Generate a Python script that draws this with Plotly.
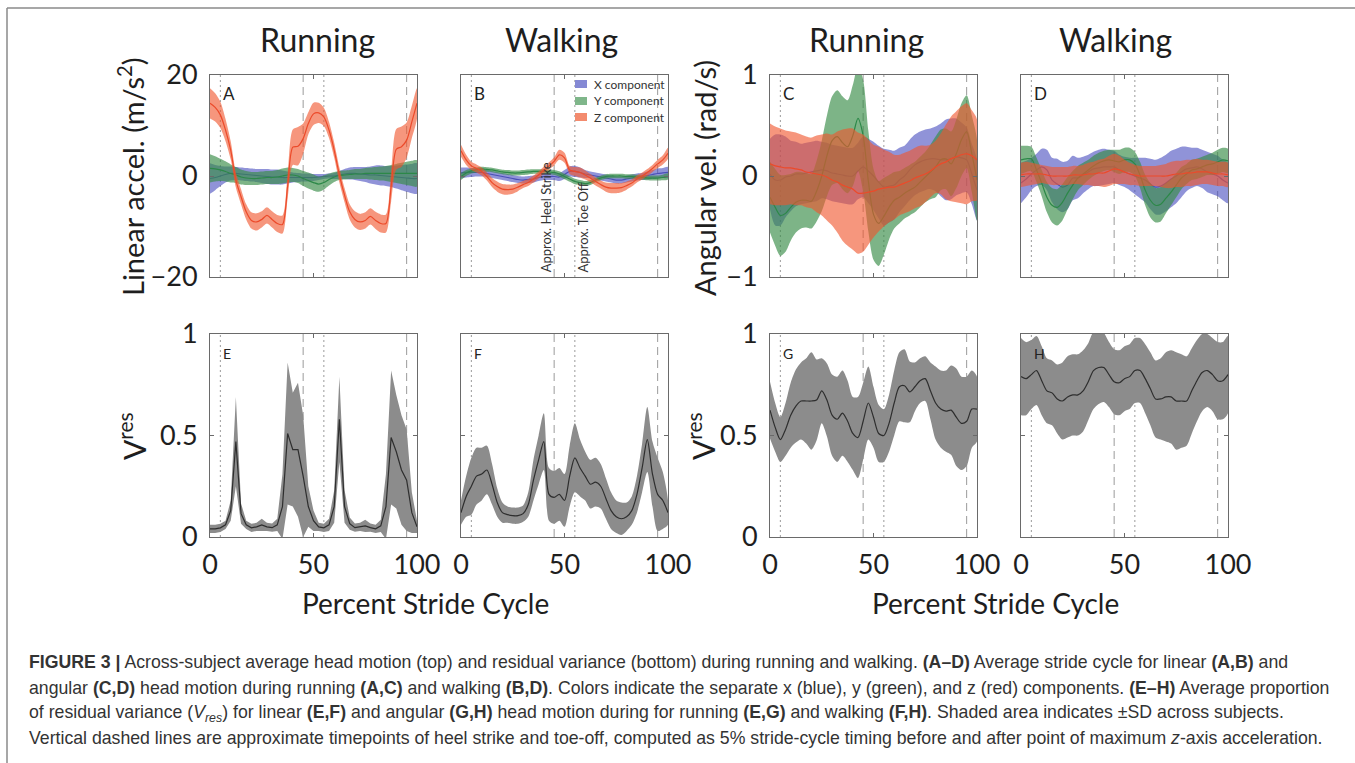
import plotly.graph_objects as go

# ---------------- data ----------------
pct = [i * 2.5 for i in range(41)]          # percent stride cycle grid
toe_off_pct = [5, 55]                        # dotted lines
heel_strike_pct = [45, 95]                   # dashed lines

# Panel A: running, linear acceleration (m/s^2)
A_x_mean = [-0.5, -0.3, 0.0, 0.3, 0.5, 0.5, 0.4, 0.3, 0.2, 0.1, 0.0, -0.1, -0.2, -0.2, -0.3, -0.3, -0.3, -0.3, -0.3, -0.3,
            -0.3, -0.2, -0.1, 0.0, 0.0, 0.2, 0.4, 0.5, 0.5, 0.4, 0.3, 0.2, 0.2, 0.1, 0.0, -0.1, -0.2, -0.3, -0.4, -0.5, -0.5]
A_x_sd = [3.0, 2.5, 2.0, 1.6, 1.4, 1.3, 1.3, 1.3, 1.3, 1.3, 1.4, 1.5, 1.5, 1.5, 1.4, 1.2, 1.0, 0.9, 0.8, 0.8,
          0.7, 0.6, 0.5, 0.5, 0.6, 0.8, 1.0, 1.2, 1.3, 1.4, 1.5, 1.7, 1.9, 2.0, 2.0, 2.1, 2.3, 2.5, 2.7, 2.9, 3.0]
A_y_mean = [1.5, 1.4, 1.2, 0.9, 0.5, 0.2, -0.2, -0.4, -0.5, -0.5, -0.4, -0.3, -0.3, -0.2, 0.0, 0.2, 0.2, 0.0, -0.5, -0.9,
            -1.3, -1.6, -1.3, -0.7, -0.2, 0.1, 0.2, 0.3, 0.4, 0.4, 0.5, 0.5, 0.5, 0.5, 0.5, 0.5, 0.5, 0.5, 0.5, 0.5, 0.5]
A_y_sd = [2.8, 2.5, 2.2, 2.0, 1.8, 1.6, 1.5, 1.4, 1.3, 1.3, 1.3, 1.3, 1.3, 1.4, 1.5, 1.5, 1.4, 1.4, 1.5, 1.6,
          1.6, 1.5, 1.4, 1.2, 1.0, 0.9, 0.9, 0.9, 1.0, 1.0, 1.1, 1.2, 1.3, 1.4, 1.5, 1.7, 1.9, 2.1, 2.3, 2.5, 2.6]
A_z_mean = [14.4, 13.6, 12.1, 9.1, 5.1, -0.8, -4.1, -7.1, -8.8, -9.1, -8.6, -7.8, -8.6, -9.4, -9.6, -2.0, 5.7, 5.9, 7.4, 10.4,
            12.3, 12.5, 11.7, 9.1, 5.1, 0.2, -3.8, -7.1, -8.6, -9.1, -8.8, -8.0, -8.8, -9.4, -9.4, -2.1, 5.3, 5.8, 7.1, 10.7, 14.4]
A_z_sd = [3.0, 2.8, 2.6, 2.2, 1.8, 1.5, 1.5, 1.5, 1.6, 1.7, 1.6, 1.6, 1.6, 1.7, 1.8, 2.5, 3.5, 3.8, 3.0, 2.2,
          2.2, 2.0, 1.8, 1.6, 1.5, 1.5, 1.4, 1.5, 1.6, 1.6, 1.6, 1.6, 1.7, 1.8, 1.8, 3.0, 4.0, 4.0, 3.5, 3.2, 3.0]

# Panel B: walking, linear acceleration (m/s^2)
B_x_mean = [0.6, 0.7, 0.7, 0.7, 0.7, 0.5, 0.3, 0.1, -0.1, -0.3, -0.5, -0.7, -0.8, -0.7, -0.6, -0.3, -0.1, -0.1, -0.1, -0.2,
            0.3, 0.9, 0.9, 0.7, 0.4, 0.2, 0.0, -0.2, -0.4, -0.6, -0.8, -0.8, -0.6, -0.4, -0.2, -0.1, 0.1, 0.3, 0.5, 0.6, 0.7]
B_x_sd = [1.1, 1.0, 0.9, 0.8, 0.8, 0.7, 0.7, 0.7, 0.7, 0.7, 0.7, 0.7, 0.7, 0.7, 0.7, 0.7, 0.7, 0.7, 0.7, 0.8,
          0.9, 1.0, 1.1, 1.0, 0.8, 0.7, 0.7, 0.7, 0.7, 0.7, 0.7, 0.7, 0.7, 0.7, 0.7, 0.7, 0.8, 0.9, 1.0, 1.0, 1.1]
B_y_mean = [-0.1, 0.6, 1.0, 1.2, 1.4, 1.3, 1.2, 1.0, 0.8, 0.7, 0.6, 0.6, 0.7, 0.8, 0.9, 0.9, 0.9, 0.8, 0.7, 0.4,
            -0.1, -0.6, -1.1, -1.3, -1.5, -1.3, -0.8, -0.4, -0.1, 0.0, 0.0, 0.0, -0.1, -0.1, -0.2, -0.3, -0.4, -0.4, -0.4, -0.3, -0.1]
B_y_sd = [0.7, 0.6, 0.5, 0.5, 0.45, 0.45, 0.45, 0.45, 0.45, 0.5, 0.5, 0.5, 0.5, 0.5, 0.45, 0.45, 0.45, 0.5, 0.5, 0.55,
          0.55, 0.55, 0.55, 0.5, 0.5, 0.5, 0.45, 0.45, 0.45, 0.45, 0.45, 0.45, 0.45, 0.45, 0.45, 0.45, 0.45, 0.5, 0.5, 0.55, 0.6]
B_z_mean = [5.0, 3.2, 2.0, 1.5, 0.9, -0.1, -1.3, -2.1, -2.6, -2.7, -2.6, -2.2, -1.7, -1.3, -0.6, 0.2, 1.2, 2.0, 2.9, 4.2,
            3.6, 1.2, 0.9, 0.7, 0.2, -0.4, -1.1, -1.7, -2.2, -2.4, -2.4, -2.3, -1.9, -1.4, -0.6, 0.0, 0.7, 1.5, 2.4, 3.2, 4.5]
B_z_sd = [1.2, 1.0, 0.8, 0.8, 0.8, 0.8, 0.9, 1.0, 1.0, 1.0, 0.9, 0.8, 0.7, 0.7, 0.7, 0.7, 0.7, 0.7, 0.8, 1.0,
          1.0, 0.8, 0.9, 1.0, 0.9, 0.8, 0.8, 0.8, 0.9, 1.0, 1.0, 0.9, 0.8, 0.7, 0.7, 0.7, 0.7, 0.7, 0.8, 0.9, 1.1]

# Panel C: running, angular velocity (rad/s)
C_x_mean = [0.02, -0.04, -0.04, -0.01, 0.0, 0.02, 0.02, 0.03, 0.04, 0.05, 0.06, 0.05, 0.03, 0.02, 0.01, 0.0, 0.0, 0.05, 0.09, 0.05,
            0.0, -0.06, -0.11, -0.10, -0.09, -0.04, 0.0, 0.06, 0.11, 0.14, 0.16, 0.17, 0.17, 0.16, 0.16, 0.17, 0.19, 0.18, 0.16, 0.02, -0.14]
C_x_sd = [0.35, 0.45, 0.45, 0.40, 0.35, 0.32, 0.30, 0.30, 0.30, 0.30, 0.28, 0.28, 0.28, 0.28, 0.28, 0.28, 0.28, 0.28, 0.30, 0.32,
          0.34, 0.36, 0.38, 0.36, 0.34, 0.32, 0.30, 0.30, 0.30, 0.30, 0.30, 0.30, 0.32, 0.36, 0.40, 0.40, 0.38, 0.35, 0.32, 0.30, 0.30]
C_y_mean = [-0.21, -0.31, -0.39, -0.37, -0.31, -0.26, -0.24, -0.24, -0.25, -0.15, 0.0, 0.2, 0.35, 0.39, 0.33, 0.29, 0.40, 0.57, 0.40, -0.05,
            -0.38, -0.47, -0.40, -0.31, -0.24, -0.21, -0.17, -0.14, -0.11, -0.06, -0.01, 0.04, 0.09, 0.16, 0.17, 0.12, 0.22, 0.36, 0.44, 0.22, -0.04]
C_y_sd = [0.35, 0.38, 0.40, 0.38, 0.33, 0.30, 0.28, 0.27, 0.27, 0.30, 0.35, 0.40, 0.44, 0.46, 0.46, 0.46, 0.50, 0.52, 0.55, 0.50,
          0.45, 0.42, 0.38, 0.32, 0.28, 0.26, 0.25, 0.25, 0.25, 0.25, 0.25, 0.27, 0.30, 0.30, 0.30, 0.32, 0.34, 0.36, 0.36, 0.38, 0.40]
C_z_mean = [0.12, 0.10, 0.09, 0.08, 0.08, 0.07, 0.06, 0.04, 0.03, 0.02, 0.01, -0.01, -0.04, -0.06, -0.09, -0.11, -0.13, -0.17, -0.17, -0.16,
            -0.15, -0.13, -0.12, -0.11, -0.11, -0.09, -0.07, -0.05, -0.02, 0.0, 0.02, 0.05, 0.09, 0.12, 0.14, 0.17, 0.19, 0.21, 0.22, 0.20, 0.16]
C_z_sd = [0.40, 0.39, 0.38, 0.37, 0.36, 0.36, 0.35, 0.35, 0.35, 0.38, 0.40, 0.43, 0.45, 0.50, 0.55, 0.58, 0.60, 0.60, 0.58, 0.52,
          0.46, 0.42, 0.38, 0.35, 0.32, 0.30, 0.30, 0.30, 0.30, 0.30, 0.28, 0.26, 0.26, 0.30, 0.37, 0.42, 0.45, 0.48, 0.50, 0.45, 0.40]

# Panel D: walking, angular velocity (rad/s)
D_x_mean = [-0.07, -0.03, 0.02, 0.06, 0.09, 0.06, -0.04, -0.08, -0.11, -0.09, -0.02, -0.02, 0.01, 0.04, 0.07, 0.08, 0.09, 0.09, 0.09, 0.06,
            0.04, 0.02, 0.0, -0.02, -0.04, -0.08, -0.11, -0.10, -0.07, -0.03, 0.0, 0.04, 0.07, 0.08, 0.09, 0.07, 0.04, 0.02, 0.0, -0.04, -0.07]
D_x_sd = [0.20, 0.18, 0.16, 0.16, 0.18, 0.20, 0.22, 0.25, 0.25, 0.24, 0.22, 0.20, 0.18, 0.17, 0.17, 0.18, 0.18, 0.17, 0.16, 0.15,
          0.15, 0.16, 0.18, 0.20, 0.22, 0.25, 0.27, 0.28, 0.28, 0.28, 0.27, 0.25, 0.22, 0.20, 0.19, 0.19, 0.20, 0.20, 0.20, 0.20, 0.20]
D_y_mean = [0.16, 0.17, 0.17, 0.06, -0.07, -0.21, -0.29, -0.31, -0.26, -0.17, -0.09, -0.02, 0.02, 0.06, 0.10, 0.13, 0.15, 0.16, 0.15, 0.14,
            0.16, 0.16, 0.12, 0.01, -0.14, -0.24, -0.29, -0.28, -0.22, -0.16, -0.09, -0.02, 0.02, 0.06, 0.07, 0.09, 0.11, 0.12, 0.14, 0.16, 0.15]
D_y_sd = [0.14, 0.13, 0.12, 0.12, 0.13, 0.15, 0.17, 0.18, 0.18, 0.16, 0.14, 0.12, 0.11, 0.10, 0.10, 0.10, 0.10, 0.10, 0.11, 0.12,
          0.12, 0.12, 0.12, 0.13, 0.15, 0.17, 0.17, 0.17, 0.15, 0.13, 0.12, 0.11, 0.10, 0.10, 0.10, 0.10, 0.10, 0.11, 0.12, 0.12, 0.12]
D_z_mean = [0.01, 0.02, 0.02, 0.02, 0.02, 0.01, 0.0, 0.0, 0.0, 0.0, 0.01, 0.01, 0.01, 0.02, 0.02, 0.03, 0.03, 0.05, 0.07, 0.06,
            0.04, 0.02, 0.01, 0.0, 0.0, 0.0, 0.0, 0.0, 0.0, 0.01, 0.02, 0.02, 0.03, 0.03, 0.04, 0.04, 0.04, 0.03, 0.02, 0.02, 0.01]
D_z_sd = [0.12, 0.12, 0.11, 0.10, 0.09, 0.09, 0.09, 0.09, 0.09, 0.09, 0.09, 0.09, 0.10, 0.11, 0.12, 0.13, 0.14, 0.15, 0.15, 0.14,
          0.12, 0.11, 0.10, 0.10, 0.10, 0.10, 0.10, 0.11, 0.12, 0.13, 0.13, 0.13, 0.13, 0.13, 0.13, 0.12, 0.12, 0.12, 0.12, 0.12, 0.12]

# Panels E-H: residual variance V_res
E_mean = [0.04, 0.04, 0.045, 0.06, 0.13, 0.47, 0.115, 0.06, 0.045, 0.05, 0.06, 0.05, 0.046, 0.06, 0.15, 0.51, 0.43, 0.43, 0.30, 0.15,
          0.08, 0.05, 0.045, 0.06, 0.15, 0.58, 0.15, 0.066, 0.046, 0.05, 0.055, 0.046, 0.04, 0.055, 0.15, 0.49, 0.42, 0.33, 0.28, 0.12, 0.05]
E_sd = [0.02, 0.02, 0.02, 0.02, 0.05, 0.22, 0.05, 0.02, 0.02, 0.02, 0.03, 0.02, 0.02, 0.03, 0.16, 0.35, 0.28, 0.33, 0.30, 0.10,
        0.05, 0.02, 0.02, 0.03, 0.08, 0.21, 0.08, 0.03, 0.02, 0.02, 0.03, 0.02, 0.02, 0.03, 0.16, 0.33, 0.28, 0.27, 0.25, 0.10, 0.03]
F_mean = [0.12, 0.2, 0.25, 0.3, 0.31, 0.33, 0.26, 0.17, 0.12, 0.11, 0.105, 0.105, 0.115, 0.16, 0.28, 0.38, 0.47, 0.21, 0.195, 0.21,
          0.18, 0.3, 0.39, 0.34, 0.3, 0.26, 0.27, 0.25, 0.19, 0.13, 0.1, 0.09, 0.1, 0.13, 0.21, 0.34, 0.48, 0.31, 0.21, 0.18, 0.12]
F_sd = [0.06, 0.1, 0.14, 0.14, 0.13, 0.12, 0.1, 0.07, 0.05, 0.04, 0.04, 0.04, 0.04, 0.06, 0.1, 0.12, 0.14, 0.13, 0.13, 0.13,
        0.13, 0.15, 0.17, 0.14, 0.12, 0.12, 0.12, 0.11, 0.1, 0.09, 0.08, 0.08, 0.07, 0.07, 0.09, 0.12, 0.16, 0.16, 0.18, 0.14, 0.06]
G_mean = [0.625, 0.54, 0.48, 0.53, 0.6, 0.645, 0.67, 0.67, 0.67, 0.675, 0.72, 0.675, 0.6, 0.58, 0.61, 0.57, 0.51, 0.49, 0.57, 0.66,
          0.59, 0.51, 0.5, 0.56, 0.66, 0.74, 0.745, 0.715, 0.74, 0.77, 0.78, 0.72, 0.66, 0.63, 0.62, 0.625, 0.59, 0.56, 0.57, 0.63, 0.63]
G_sd = [0.14, 0.12, 0.11, 0.13, 0.16, 0.18, 0.19, 0.21, 0.24, 0.2, 0.16, 0.18, 0.2, 0.21, 0.21, 0.2, 0.18, 0.2, 0.19, 0.18,
        0.15, 0.14, 0.13, 0.14, 0.16, 0.17, 0.18, 0.15, 0.12, 0.11, 0.11, 0.14, 0.18, 0.19, 0.2, 0.22, 0.24, 0.23, 0.22, 0.19, 0.16]
H_mean = [0.79, 0.78, 0.8, 0.82, 0.77, 0.72, 0.71, 0.68, 0.67, 0.69, 0.7, 0.7, 0.72, 0.765, 0.82, 0.835, 0.835, 0.8, 0.765, 0.76,
          0.78, 0.79, 0.82, 0.82, 0.78, 0.73, 0.68, 0.68, 0.69, 0.69, 0.67, 0.67, 0.67, 0.72, 0.77, 0.81, 0.82, 0.8, 0.77, 0.77, 0.8]
H_sd = [0.19, 0.18, 0.17, 0.17, 0.17, 0.16, 0.16, 0.17, 0.19, 0.2, 0.2, 0.2, 0.2, 0.19, 0.19, 0.18, 0.17, 0.16, 0.16, 0.16,
        0.16, 0.16, 0.16, 0.16, 0.17, 0.18, 0.19, 0.2, 0.22, 0.23, 0.24, 0.23, 0.22, 0.21, 0.2, 0.19, 0.18, 0.18, 0.19, 0.19, 0.19]

component_labels = ["X component", "Y component", "Z component"]
column_titles = ["Running", "Walking", "Running", "Walking"]
panel_letters = ["A", "B", "C", "D", "E", "F", "G", "H"]

# ---------------- styling ----------------
W, H = 1355, 763
FONT = "Lato"
CAP_FONT = "Liberation Sans"
FILL = {"x": "rgba(70,75,190,0.60)", "y": "rgba(55,140,70,0.65)", "z": "rgba(240,85,45,0.62)"}
LINE = {"x": "#4a4fb8", "y": "#2c8848", "z": "#ec4a2a"}
SWATCH = {"x": "#8589d4", "y": "#7fb68a", "z": "#f38b6e"}
GRAY_FILL = "#8c8c8c"
GRAY_LINE = "#2e2e2e"


def px(x):
    return x / W


def py(y):
    return 1 - y / H


col_left = [210, 461, 770, 1021]
col_w = 207
row_top = [75, 334]
row_bot = [277, 537]

fig = go.Figure()

top_data = [
    {"x": (A_x_mean, A_x_sd), "y": (A_y_mean, A_y_sd), "z": (A_z_mean, A_z_sd)},
    {"x": (B_x_mean, B_x_sd), "y": (B_y_mean, B_y_sd), "z": (B_z_mean, B_z_sd)},
    {"x": (C_x_mean, C_x_sd), "y": (C_y_mean, C_y_sd), "z": (C_z_mean, C_z_sd)},
    {"x": (D_x_mean, D_x_sd), "y": (D_y_mean, D_y_sd), "z": (D_z_mean, D_z_sd)},
]
bottom_data = [(E_mean, E_sd), (F_mean, F_sd), (G_mean, G_sd), (H_mean, H_sd)]


def band(mean, sd):
    up = [m + s for m, s in zip(mean, sd)]
    lo = [m - s for m, s in zip(mean, sd)]
    return pct + pct[::-1], up + lo[::-1]


for i, panel in enumerate(top_data):
    ax = "" if i == 0 else str(i + 1)
    for comp in ["x", "y", "z"]:
        m, s = panel[comp]
        bx, by = band(m, s)
        fig.add_trace(go.Scatter(x=bx, y=by, fill="toself", fillcolor=FILL[comp], mode="lines",
                                 line=dict(width=0, shape="spline", smoothing=0.8), hoverinfo="skip",
                                 showlegend=False, xaxis="x" + ax, yaxis="y" + ax))
        fig.add_trace(go.Scatter(x=pct, y=m, mode="lines", line=dict(color=LINE[comp], width=1.2, shape="spline", smoothing=0.8),
                                 showlegend=False, xaxis="x" + ax, yaxis="y" + ax))

for j, (m, s) in enumerate(bottom_data):
    ax = str(j + 5)
    bx, by = band(m, s)
    shape = "linear" if j == 0 else "spline"
    fig.add_trace(go.Scatter(x=bx, y=by, fill="toself", fillcolor=GRAY_FILL, mode="lines",
                             line=dict(width=0, shape=shape, smoothing=0.8), hoverinfo="skip",
                             showlegend=False, xaxis="x" + ax, yaxis="y" + ax))
    fig.add_trace(go.Scatter(x=pct, y=m, mode="lines", line=dict(color=GRAY_LINE, width=1.2, shape=shape, smoothing=0.8),
                             showlegend=False, xaxis="x" + ax, yaxis="y" + ax))

axis_common = dict(showline=True, linecolor="#6a6a6a", linewidth=1, mirror="ticks", ticks="inside", ticklen=4,
                   tickwidth=1, tickcolor="#6a6a6a", showgrid=False, zeroline=False, automargin=False,
                   tickfont=dict(family=FONT, size=27, color="#1e1e1e"))

layout = dict(template="none", width=W, height=H, autosize=False, margin=dict(l=0, r=0, t=0, b=0, pad=0),
              paper_bgcolor="white", plot_bgcolor="white", showlegend=False)

yranges = [[-20, 20], [-20, 20], [-1, 1], [-1, 1], [0, 1], [0, 1], [0, 1], [0, 1]]
yticks = [[-20, 0, 20], [-20, 0, 20], [-1, 0, 1], [-1, 0, 1], [0, 0.5, 1], [0, 0.5, 1], [0, 0.5, 1], [0, 0.5, 1]]
for k in range(8):
    r, c = divmod(k, 4)
    suffix = "" if k == 0 else str(k + 1)
    xd = [px(col_left[c]), px(col_left[c] + col_w)]
    yd = [py(row_bot[r]), py(row_top[r])]
    layout["xaxis" + suffix] = dict(axis_common, domain=xd, range=[0, 100], tickvals=[0, 50, 100],
                                    showticklabels=(r == 1), anchor="y" + suffix, ticklabelstandoff=4)
    layout["yaxis" + suffix] = dict(axis_common, domain=yd, range=yranges[k], tickvals=yticks[k],
                                    showticklabels=(c in (0, 2)), anchor="x" + suffix, ticklabelstandoff=6)

fig.update_layout(**layout)

# event lines
shapes = []
for k in range(8):
    suffix = "" if k == 0 else str(k + 1)
    for xv in toe_off_pct:
        shapes.append(dict(type="line", xref="x" + suffix, yref="y" + suffix + " domain", x0=xv, x1=xv, y0=0, y1=1,
                           line=dict(color="#9a9a9a", width=1, dash="2px,3px"), layer="below"))
    for xv in heel_strike_pct:
        shapes.append(dict(type="line", xref="x" + suffix, yref="y" + suffix + " domain", x0=xv, x1=xv, y0=0, y1=1,
                           line=dict(color="#9a9a9a", width=1, dash="8px,5px"), layer="below"))

# legend swatches in panel B
leg_y = [84, 101, 117]
for lbl_y, comp in zip(leg_y, ["x", "y", "z"]):
    shapes.append(dict(type="rect", xref="paper", yref="paper", x0=px(575), x1=px(587), y0=py(lbl_y + 4), y1=py(lbl_y - 4),
                       fillcolor=SWATCH[comp], line=dict(width=0)))

# figure frame
shapes.append(dict(type="line", xref="paper", yref="paper", x0=px(7), x1=px(7), y0=0, y1=py(8),
                   line=dict(color="#8a8a8a", width=1.5)))
shapes.append(dict(type="line", xref="paper", yref="paper", x0=px(7), x1=1, y0=py(8), y1=py(8),
                   line=dict(color="#8a8a8a", width=1.5)))
fig.update_layout(shapes=shapes)

ann = []
# column titles
for cx, t in zip([317, 561, 866, 1115], column_titles):
    ann.append(dict(text=t, x=px(cx), y=py(40), xref="paper", yref="paper", showarrow=False,
                    xanchor="center", yanchor="middle", font=dict(family=FONT, size=32, color="#1e1e1e")))
# panel letters
for k, L in enumerate(panel_letters):
    r, c = divmod(k, 4)
    ann.append(dict(text=L, x=px(col_left[c] + 11), y=py(row_top[r] + (18 if r == 0 else 19)), xref="paper", yref="paper",
                    showarrow=False, xanchor="left", yanchor="middle",
                    font=dict(family=FONT, size=17 if r == 0 else 14, color="#222")))
# y titles
ann.append(dict(text="Linear accel. (m/s<sup>2</sup>)", x=px(131), y=py(177), xref="paper", yref="paper", textangle=-90,
                showarrow=False, xanchor="center", yanchor="middle", font=dict(family=FONT, size=29, color="#1e1e1e")))
ann.append(dict(text="Angular vel. (rad/s)", x=px(704), y=py(178), xref="paper", yref="paper", textangle=-90,
                showarrow=False, xanchor="center", yanchor="middle", font=dict(family=FONT, size=29, color="#1e1e1e")))
for vx in [132, 701]:
    ann.append(dict(text="V<sup>res</sup>", x=px(vx), y=py(436), xref="paper", yref="paper", textangle=-90,
                    showarrow=False, xanchor="center", yanchor="middle", font=dict(family=FONT, size=30, color="#1e1e1e")))
# x titles
for cx in [425, 995]:
    ann.append(dict(text="Percent Stride Cycle", x=px(cx), y=py(603), xref="paper", yref="paper", showarrow=False,
                    xanchor="center", yanchor="middle", font=dict(family=FONT, size=28, color="#1e1e1e")))
# event labels in panel B
ann.append(dict(text="Approx. Heel Strike", x=heel_strike_pct[0] - 3.5, y=-19.5, xref="x2", yref="y2", textangle=-90,
                showarrow=False, xanchor="center", yanchor="bottom", font=dict(family=FONT, size=13, color="#333")))
ann.append(dict(text="Approx. Toe Off", x=toe_off_pct[1] + 4, y=-19.5, xref="x2", yref="y2", textangle=-90,
                showarrow=False, xanchor="center", yanchor="bottom", font=dict(family=FONT, size=13, color="#333")))
# legend labels
for lbl_y, lab in zip(leg_y, component_labels):
    ann.append(dict(text=lab, x=px(592), y=py(lbl_y), xref="paper", yref="paper", showarrow=False,
                    xanchor="left", yanchor="middle", font=dict(family=FONT, size=12, color="#333")))

caption_lines = [
    "<b>FIGURE 3 |</b> Across-subject average head motion (top) and residual variance (bottom) during running and walking. "
    "<b>(A–D)</b> Average stride cycle for linear <b>(A,B)</b> and",
    "angular <b>(C,D)</b> head motion during running <b>(A,C)</b> and walking <b>(B,D)</b>. Colors indicate the separate x (blue), "
    "y (green), and z (red) components. <b>(E–H)</b> Average proportion",
    "of residual variance (<i>V<sub>res</sub></i>) for linear <b>(E,F)</b> and angular <b>(G,H)</b> head motion during for running "
    "<b>(E,G)</b> and walking <b>(F,H)</b>. Shaded area indicates ±SD across subjects.",
    "Vertical dashed lines are approximate timepoints of heel strike and toe-off, computed as 5% stride-cycle timing before and "
    "after point of maximum <i>z</i>-axis acceleration.",
]
for ly, line in zip([662, 688, 713, 738], caption_lines):
    ann.append(dict(text=line, x=px(27), y=py(ly), xref="paper", yref="paper", showarrow=False,
                    xanchor="left", yanchor="middle", font=dict(family=CAP_FONT, size=17.7, color="#333")))

fig.update_layout(annotations=ann)
fig.write_html("out.html", config={"displayModeBar": False},
               post_script="document.body.style.margin='0';document.body.style.padding='0';"
                           "document.documentElement.style.overflow='hidden';")
